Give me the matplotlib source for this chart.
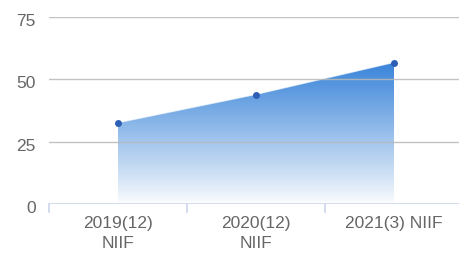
import matplotlib
matplotlib.use("Agg")
import matplotlib.pyplot as plt
import numpy as np
from matplotlib.colors import LinearSegmentedColormap
from matplotlib.transforms import ScaledTranslation, blended_transform_factory

categories = ["2019(12)\nNIIF", "2020(12)\nNIIF", "2021(3) NIIF"]
values = [32.5, 43.8, 56.6]
yticks = [0, 25, 50, 75]

plt.rcParams['font.family'] = ['Liberation Sans', 'DejaVu Sans']

W = 414
fig = plt.figure(figsize=(4.6, 2.55), dpi=100)
ax = fig.add_axes([49/460, (255-205)/255, W/460, (205-17.5)/255])
ax.set_xlim(-0.5, len(categories) - 0.5)
ax.set_ylim(0, 75)

x = np.arange(len(categories))
poly = ax.fill_between(x, values, 0, facecolor='none', edgecolor='none', zorder=2)
cmap = LinearSegmentedColormap.from_list('g', ['#ffffff', '#9ec3ec', '#2f7ed8'])
grad = np.linspace(0, 1, 256).reshape(-1, 1)
grad = grad ** 0.85
im = ax.imshow(grad, cmap=cmap, aspect='auto', origin='lower',
               extent=[x[0], x[-1], 0, max(values)], zorder=2, alpha=0.95)
im.set_clip_path(poly.get_paths()[0], transform=ax.transData)
ax.set_xlim(-0.5, len(categories) - 0.5)
ax.set_ylim(0, 75)

ax.plot(x, values, color='#ffffff', lw=0.8, alpha=0.6, zorder=3)
ax.plot(x, values, 'o', color='#2c5fb5', ms=5, zorder=4, mec='none')

for yv in yticks[1:]:
    ax.axhline(yv, color='#b8b8b8', lw=1, zorder=3, alpha=0.85)
ax.axhline(0, color='#ccd6eb', lw=1.2, zorder=5)

for s in ax.spines.values():
    s.set_visible(False)
ax.set_xticks([])
ax.set_yticks([])

ytr = blended_transform_factory(ax.transAxes, ax.transData)
for yv in yticks:
    ax.text(-13/W, yv, str(yv), ha='right', va='center', fontsize=12.5, color='#666666',
            transform=ytr + ScaledTranslation(0, -4/100, fig.dpi_scale_trans))

xtr = blended_transform_factory(ax.transData, ax.transAxes)
for b in np.arange(len(categories)):
    ax.plot([b - 0.5, b - 0.5], [0, -8/187.5], color='#ccd6eb', lw=1.2, transform=xtr, clip_on=False, zorder=5)
for i, c in enumerate(categories):
    ax.text(i, 0, c, ha='center', va='top', fontsize=12.5, color='#666666', linespacing=1.45,
            transform=xtr + ScaledTranslation(0, -11/100, fig.dpi_scale_trans))

fig.savefig('out.png', dpi=100)
